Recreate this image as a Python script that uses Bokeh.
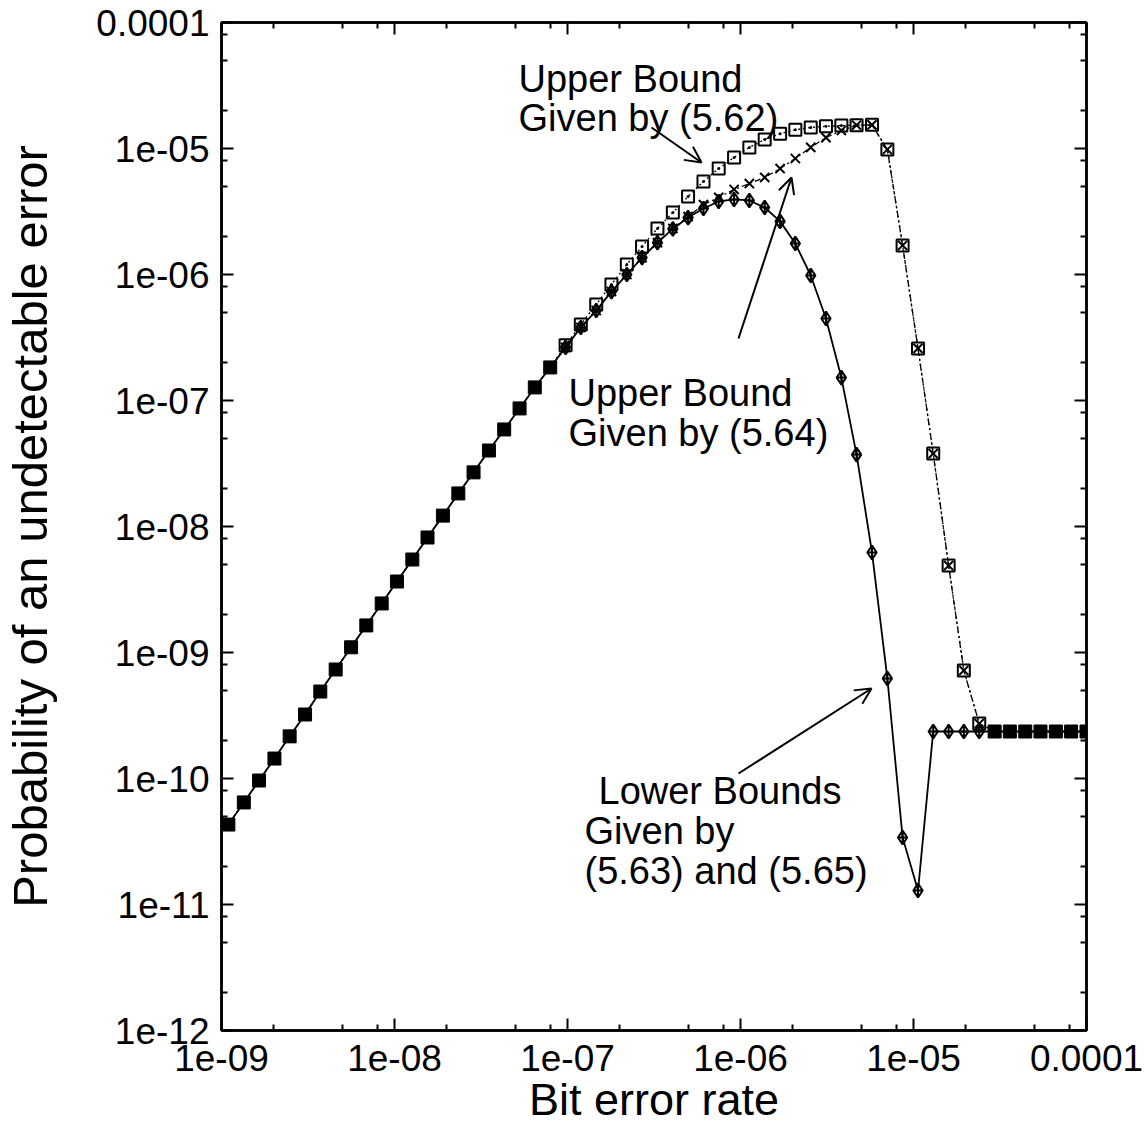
from bokeh.plotting import figure
from bokeh.models import (LogAxis, FixedTicker, CustomJSTickFormatter, Label,
                          Arrow, OpenHead, Range1d)
from bokeh.embed import file_html
from bokeh.resources import INLINE

FONT = "Liberation Sans"

# ---------------- data ----------------
bit_error_rate = [
    1.096e-9, 1.346e-9, 1.648e-9, 2.023e-9, 2.477e-9, 3.041e-9, 3.724e-9, 4.571e-9,
    5.610e-9, 6.871e-9, 8.433e-9, 1.033e-8, 1.268e-8, 1.552e-8, 1.905e-8, 2.339e-8,
    2.864e-8, 3.516e-8, 4.305e-8, 5.284e-8, 6.471e-8, 7.943e-8, 9.750e-8, 1.194e-7,
    1.466e-7, 1.795e-7, 2.203e-7, 2.698e-7, 3.311e-7, 4.064e-7, 4.977e-7, 6.109e-7,
    7.482e-7, 9.183e-7, 1.125e-6, 1.380e-6, 1.694e-6, 2.075e-6, 2.547e-6, 3.119e-6,
    3.828e-6, 4.688e-6, 5.754e-6, 7.063e-6, 8.650e-6, 1.062e-5, 1.300e-5, 1.596e-5,
    1.954e-5, 2.399e-5, 2.944e-5, 3.606e-5, 4.426e-5, 5.420e-5, 6.653e-5, 8.147e-5,
    1.000e-4,
]

# Upper bound given by (5.62)  (open squares)
upper_562 = [
    4.31e-11, 6.46e-11, 9.64e-11, 1.44e-10, 2.16e-10, 3.22e-10, 4.90e-10, 7.33e-10,
    1.10e-9, 1.64e-9, 2.45e-9, 3.66e-9, 5.47e-9, 8.18e-9, 1.22e-8, 1.83e-8,
    2.69e-8, 4.01e-8, 5.89e-8, 8.65e-8, 1.27e-7, 1.83e-7, 2.74e-7, 4.01e-7,
    5.78e-7, 8.34e-7, 1.20e-6, 1.67e-6, 2.32e-6, 3.10e-6, 4.16e-6, 5.47e-6,
    6.93e-6, 8.49e-6, 1.02e-5, 1.18e-5, 1.31e-5, 1.41e-5, 1.47e-5, 1.50e-5,
    1.52e-5, 1.53e-5, 1.54e-5, 9.82e-6, 1.70e-6, 2.59e-7, 3.79e-8, 4.90e-9,
    7.20e-10, 2.73e-10, 2.36e-10, 2.36e-10, 2.36e-10, 2.36e-10, 2.36e-10, 2.36e-10,
    2.36e-10,
]

# Upper bound given by (5.64)  (crosses)
upper_564 = [
    4.31e-11, 6.46e-11, 9.64e-11, 1.44e-10, 2.16e-10, 3.22e-10, 4.90e-10, 7.33e-10,
    1.10e-9, 1.64e-9, 2.45e-9, 3.66e-9, 5.47e-9, 8.18e-9, 1.22e-8, 1.83e-8,
    2.69e-8, 4.01e-8, 5.89e-8, 8.65e-8, 1.27e-7, 1.83e-7, 2.64e-7, 3.80e-7,
    5.18e-7, 7.32e-7, 1.00e-6, 1.36e-6, 1.79e-6, 2.32e-6, 2.88e-6, 3.59e-6,
    4.09e-6, 4.73e-6, 5.27e-6, 5.89e-6, 6.93e-6, 8.33e-6, 1.02e-5, 1.22e-5,
    1.39e-5, 1.53e-5, 1.54e-5, 9.82e-6, 1.70e-6, 2.59e-7, 3.79e-8, 4.90e-9,
    7.20e-10, 2.73e-10, 2.36e-10, 2.36e-10, 2.36e-10, 2.36e-10, 2.36e-10, 2.36e-10,
    2.36e-10,
]

# Lower bounds given by (5.63) and (5.65)  (diamonds)
lower_563_565 = [
    4.31e-11, 6.46e-11, 9.64e-11, 1.44e-10, 2.16e-10, 3.22e-10, 4.90e-10, 7.33e-10,
    1.10e-9, 1.64e-9, 2.45e-9, 3.66e-9, 5.47e-9, 8.18e-9, 1.22e-8, 1.83e-8,
    2.69e-8, 4.01e-8, 5.89e-8, 8.65e-8, 1.27e-7, 1.83e-7, 2.64e-7, 3.80e-7,
    5.18e-7, 7.32e-7, 1.00e-6, 1.36e-6, 1.79e-6, 2.30e-6, 2.83e-6, 3.34e-6,
    3.80e-6, 3.94e-6, 3.87e-6, 3.40e-6, 2.64e-6, 1.76e-6, 9.82e-7, 4.48e-7,
    1.52e-7, 3.72e-8, 6.22e-9, 6.22e-10, 3.40e-11, 1.29e-11, 2.36e-10, 2.36e-10,
    2.36e-10, 2.36e-10, 2.36e-10, 2.36e-10, 2.36e-10, 2.36e-10, 2.36e-10, 2.36e-10,
    2.36e-10,
]

x_decades = [-9, -8, -7, -6, -5, -4]
y_decades = [-12, -11, -10, -9, -8, -7, -6, -5, -4]
minor_mult = [2, 5, 8]

# ---------------- layout helpers (annotation positions only) ----------------
FL, FT, FW, FH = 220, 22, 865, 1008   # frame left/top/width/height in page pixels
PAGE_W, PAGE_H = 1145, 1123


def px_x(px):
    return 10 ** (-9 + (px - FL) * 5.0 / FW)


def px_y(py):
    return 10 ** (-4 - (py - FT) * 8.0 / FH)


p = figure(x_axis_type="log", y_axis_type="log",
           x_range=Range1d(1e-9, 1e-4), y_range=Range1d(1e-12, 1e-4),
           frame_width=FW, frame_height=FH,
           min_border_left=FL, min_border_top=FT,
           min_border_right=PAGE_W - FL - FW - 2,
           min_border_bottom=PAGE_H - FT - FH - 2,
           output_backend="svg", toolbar_location=None,
           background_fill_color="white", border_fill_color="white")
p.grid.visible = False
p.outline_line_color = "black"
p.outline_line_width = 2.5

xt = FixedTicker(ticks=[10.0 ** d for d in x_decades],
                 minor_ticks=[m * 10.0 ** d for d in x_decades[:-1] for m in minor_mult])
yt = FixedTicker(ticks=[10.0 ** d for d in y_decades],
                 minor_ticks=[m * 10.0 ** d for d in y_decades[:-1] for m in minor_mult])

fmt = CustomJSTickFormatter(code="""
const e = Math.round(Math.log10(tick));
if (e === -4) { return "0.0001"; }
const n = -e;
return "1e-" + (n < 10 ? "0" + n : "" + n);
""")
blank = CustomJSTickFormatter(code="return '';")


def style_axis(ax, ticker, formatter):
    ax.ticker = ticker
    ax.formatter = formatter
    ax.axis_line_width = 2.5
    ax.major_tick_in = 12
    ax.major_tick_out = 0
    ax.minor_tick_in = 6
    ax.minor_tick_out = 0
    ax.major_tick_line_width = 2
    ax.minor_tick_line_width = 2
    ax.major_label_text_font = FONT
    ax.major_label_text_font_size = "37px"
    ax.major_label_text_color = "black"
    ax.axis_label_text_font = FONT
    ax.axis_label_text_font_style = "normal"
    ax.axis_label_text_color = "black"


style_axis(p.xaxis[0], xt, fmt)
style_axis(p.yaxis[0], yt, fmt)
p.xaxis[0].axis_label = "Bit error rate"
p.yaxis[0].axis_label = "Probability of an undetectable error"
p.xaxis[0].axis_label_text_font_size = "45px"
p.yaxis[0].axis_label_text_font_size = "49px"
p.xaxis[0].major_label_standoff = 14
p.xaxis[0].axis_label_standoff = 0
p.yaxis[0].major_label_standoff = 12
p.yaxis[0].axis_label_standoff = 36

top_ax = LogAxis()
right_ax = LogAxis()
style_axis(top_ax, xt, blank)
style_axis(right_ax, yt, blank)
p.add_layout(top_ax, "above")
p.add_layout(right_ax, "right")

# ---------------- series ----------------
p.line(bit_error_rate, upper_562, line_color="black", line_width=1.3, line_dash="2 3")
p.line(bit_error_rate, upper_564, line_color="black", line_width=1.3, line_dash="6 3 2 3")
p.line(bit_error_rate, lower_563_565, line_color="black", line_width=1.8)

n = len(bit_error_rate)
shared = [i for i in range(n) if upper_562[i] == upper_564[i] == lower_563_565[i]]
alone = [i for i in range(n) if i not in shared]


def pick(vals, idx):
    return [vals[i] for i in idx]


p.scatter(pick(bit_error_rate, alone), pick(upper_562, alone), marker="square_dot",
          size=12, line_color="black", line_width=2, fill_alpha=0)
p.scatter(pick(bit_error_rate, alone), pick(upper_564, alone), marker="x",
          size=13, line_color="black", line_width=2)
p.scatter(pick(bit_error_rate, alone), pick(lower_563_565, alone), marker="diamond_cross",
          size=14, line_color="black", line_width=2, fill_alpha=0)
p.scatter(pick(bit_error_rate, shared), pick(lower_563_565, shared), marker="square",
          size=13, line_color="black", fill_color="black", line_width=1)

# ---------------- annotations ----------------
def add_text(px, py, txt):
    p.add_layout(Label(x=px_x(px), y=px_y(py), text=txt, text_font=FONT,
                       text_font_size="38px", text_color="black",
                       text_align="left", text_baseline="alphabetic"))


add_text(517, 78, "Upper Bound")
add_text(517, 117, "Given by (5.62)")
add_text(567, 392, "Upper Bound")
add_text(567, 432, "Given by (5.64)")
add_text(597, 790, "Lower Bounds")
add_text(583, 830, "Given by")
add_text(583, 870, "(5.63) and (5.65)")


def add_arrow(x0, y0, x1, y1):
    p.add_layout(Arrow(end=OpenHead(size=16, line_width=2, line_color="black"),
                       x_start=px_x(x0), y_start=px_y(y0),
                       x_end=px_x(x1), y_end=px_y(y1),
                       line_color="black", line_width=2))


add_arrow(650, 127, 700, 162)
add_arrow(737, 338, 790, 177)
add_arrow(737, 773, 870, 688)

open("out.html", "w").write(file_html(p, INLINE))
